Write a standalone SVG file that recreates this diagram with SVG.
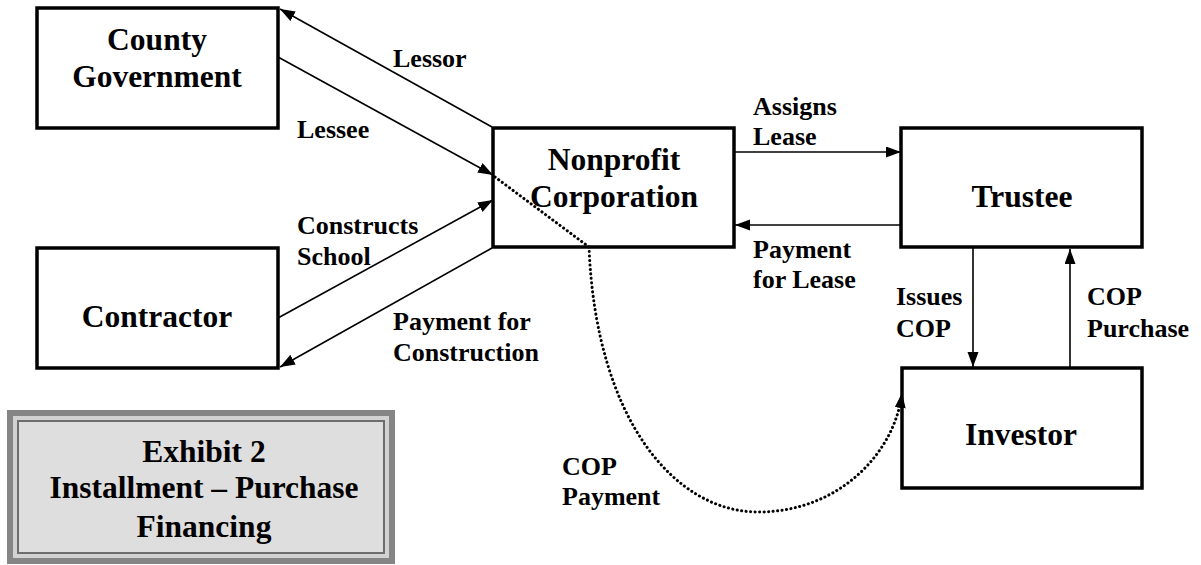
<svg xmlns="http://www.w3.org/2000/svg" width="1201" height="565" viewBox="0 0 1201 565">
  <style>
    .box { fill: #ffffff; stroke: #000000; stroke-width: 3.5; }
    .node-text { font-family: "Liberation Serif", "Times New Roman", serif; font-weight: bold; font-size: 31.5px; text-anchor: middle; fill: #000000; }
    .label { font-family: "Liberation Serif", "Times New Roman", serif; font-weight: bold; font-size: 26px; fill: #000000; }
    .edge { fill: none; stroke: #000000; stroke-width: 1.6; marker-end: url(#arrow); }
    .dotted { fill: none; stroke: #000000; stroke-width: 3; stroke-linecap: round; stroke-dasharray: 0.1 4.4; marker-end: url(#arrow); }
    .title-text { font-family: "Liberation Serif", "Times New Roman", serif; font-weight: bold; font-size: 31.5px; text-anchor: middle; fill: #000000; }
  </style>
  <defs>
    <marker id="arrow" markerUnits="userSpaceOnUse" markerWidth="16" markerHeight="12" refX="15" refY="5.5" orient="auto">
      <path d="M0,0 L15,5.5 L0,11 Z" fill="#000000" stroke="none"/>
    </marker>
  </defs>

  <rect width="1201" height="565" fill="#ffffff"/>

  <!-- nodes -->
  <g id="county-government">
    <rect class="box" x="37" y="8" width="241" height="120"/>
    <text class="node-text" x="157" y="50">County</text>
    <text class="node-text" x="157" y="87">Government</text>
  </g>

  <g id="contractor">
    <rect class="box" x="37" y="248" width="241" height="120"/>
    <text class="node-text" x="157" y="327">Contractor</text>
  </g>

  <g id="nonprofit-corporation">
    <rect class="box" x="493" y="128" width="241" height="119"/>
    <text class="node-text" x="614" y="170">Nonprofit</text>
    <text class="node-text" x="614" y="207">Corporation</text>
  </g>

  <g id="trustee">
    <rect class="box" x="901" y="128" width="241" height="119"/>
    <text class="node-text" x="1022" y="207">Trustee</text>
  </g>

  <g id="investor">
    <rect class="box" x="902" y="368" width="240" height="120"/>
    <text class="node-text" x="1021" y="445">Investor</text>
  </g>

  <!-- connectors (drawn over the boxes so the dotted route shows across the nonprofit box) -->
  <g id="connectors">
    <!-- Lessor: nonprofit to county -->
    <line class="edge" x1="492" y1="127" x2="280" y2="9"/>
    <!-- Lessee: county to nonprofit -->
    <line class="edge" x1="278" y1="57" x2="493" y2="175"/>
    <!-- Constructs School: contractor to nonprofit -->
    <line class="edge" x1="278" y1="318" x2="493" y2="200"/>
    <!-- Payment for Construction: nonprofit to contractor -->
    <line class="edge" x1="492" y1="248" x2="280" y2="367"/>
    <!-- Assigns Lease -->
    <line class="edge" x1="734" y1="152" x2="901" y2="152"/>
    <!-- Payment for Lease -->
    <line class="edge" x1="901" y1="225" x2="735" y2="225"/>
    <!-- Issues COP -->
    <line class="edge" x1="973" y1="248" x2="973" y2="367"/>
    <!-- COP Purchase -->
    <line class="edge" x1="1070" y1="368" x2="1070" y2="249"/>
    <!-- COP Payment (dotted) -->
    <path class="dotted" d="M495,177 L589,247 C596,420 675,512 758,512 C840,512 895,452 902,393"/>
  </g>

  <!-- labels on connectors -->
  <g id="connector-labels">
    <text class="label" x="393" y="67">Lessor</text>
    <text class="label" x="297" y="138">Lessee</text>
    <text class="label" x="297" y="234">Constructs</text>
    <text class="label" x="297" y="265">School</text>
    <text class="label" x="393" y="330">Payment for</text>
    <text class="label" x="393" y="361">Construction</text>
    <text class="label" x="753" y="115">Assigns</text>
    <text class="label" x="753" y="145">Lease</text>
    <text class="label" x="753" y="258">Payment</text>
    <text class="label" x="753" y="288">for Lease</text>
    <text class="label" x="896" y="305">Issues</text>
    <text class="label" x="896" y="337">COP</text>
    <text class="label" x="1087" y="305">COP</text>
    <text class="label" x="1087" y="337">Purchase</text>
    <text class="label" x="562" y="475">COP</text>
    <text class="label" x="562" y="505">Payment</text>
  </g>

  <!-- exhibit caption panel with layered border -->
  <g id="exhibit-title">
    <rect x="7" y="410" width="388" height="154" fill="#858585"/>
    <rect x="13" y="416" width="376" height="142" fill="#d2d2d2"/>
    <rect x="17" y="420" width="368" height="134" fill="#6e6e6e"/>
    <rect x="19" y="422" width="364" height="130" fill="#dedede"/>
    <text class="title-text" x="204" y="462">Exhibit 2</text>
    <text class="title-text" x="204" y="498">Installment – Purchase</text>
    <text class="title-text" x="204" y="537">Financing</text>
  </g>
</svg>
